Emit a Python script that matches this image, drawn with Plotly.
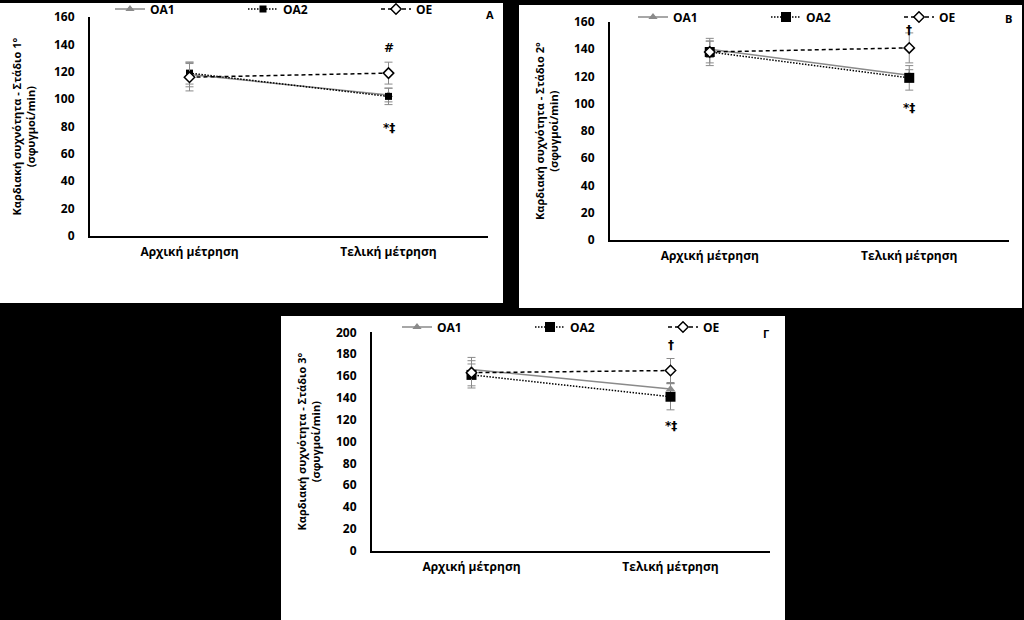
import plotly.graph_objects as go

# ---------------- data ----------------
categories = ["Αρχική μέτρηση", "Τελική μέτρηση"]
series_names = ["ΟΑ1", "ΟΑ2", "ΟΕ"]
y_ticks_ab = [0, 20, 40, 60, 80, 100, 120, 140, 160]
y_ticks_c = [0, 20, 40, 60, 80, 100, 120, 140, 160, 180, 200]

# Panel A - Στάδιο 1°
a_oa1 = [118, 103]
a_oa1_sd = [9, 5]
a_oa2 = [119, 102]
a_oa2_sd = [8, 6]
a_oe = [116, 119]
a_oe_sd = [10, 8]

# Panel B - Στάδιο 2°
b_oa1 = [140, 121]
b_oa1_sd = [6, 4]
b_oa2 = [138, 119]
b_oa2_sd = [8, 9]
b_oe = [138, 141]
b_oe_sd = [10, 11]

# Panel Γ - Στάδιο 3°
c_oa1 = [166, 148]
c_oa1_sd = [8, 5]
c_oa2 = [161, 141]
c_oa2_sd = [10, 12]
c_oe = [163, 165]
c_oe_sd = [14, 11]

# significance marks: (panel, category index, y value, text)
sig_marks = [
    ("A", 1, 137, "#"), ("A", 1, 79, "*‡"),
    ("B", 1, 154, "†"), ("B", 1, 97, "*‡"),
    ("C", 1, 188, "†"), ("C", 1, 114, "*‡"),
]

# ---------------- layout constants ----------------
W, H = 1024, 620
FONT = "Open Sans"
SYMFONT = "DejaVu Sans"
GRAY = "#8a8a8a"

def px_x(p):
    return p / W

def px_y(p):
    return 1 - p / H

panels = {
    "A": dict(xa="x", ya="y", legend="legend",
              data=[(a_oa1, a_oa1_sd), (a_oa2, a_oa2_sd), (a_oe, a_oe_sd)],
              xdom=[px_x(90), px_x(488)], ydom=[px_y(236), px_y(17)],
              yrange=[0, 160], ticks=y_ticks_ab,
              title="Καρδιακή συχνότητα - Στάδιο 1°<br>(σφυγμοί/min)",
              title_x=23, label="A", label_pos=(490, 15),
              legend_pos=(110, 9), sq=7,
              rect=(0, 3, 503, 303)),
    "B": dict(xa="x2", ya="y2", legend="legend2",
              data=[(b_oa1, b_oa1_sd), (b_oa2, b_oa2_sd), (b_oe, b_oe_sd)],
              xdom=[px_x(610), px_x(1009)], ydom=[px_y(240), px_y(22)],
              yrange=[0, 160], ticks=y_ticks_ab,
              title="Καρδιακή συχνότητα - Στάδιο 2°<br>(σφυγμοί/min)",
              title_x=546, label="B", label_pos=(1008, 19),
              legend_pos=(633, 17), sq=10,
              rect=(519, 5, 1022, 308)),
    "C": dict(xa="x3", ya="y3", legend="legend3",
              data=[(c_oa1, c_oa1_sd), (c_oa2, c_oa2_sd), (c_oe, c_oe_sd)],
              xdom=[px_x(372), px_x(770)], ydom=[px_y(550.7), px_y(332.3)],
              yrange=[0, 200], ticks=y_ticks_c,
              title="Καρδιακή συχνότητα - Στάδιο 3°<br>(σφυγμοί/min)",
              title_x=308, label="Γ", label_pos=(766, 333),
              legend_pos=(397, 327), sq=10,
              rect=(281, 316, 785, 620)),
}

def series_style(name, sq):
    if name == "ΟΑ1":
        return dict(line=dict(color=GRAY, width=1.5, dash="solid"),
                    marker=dict(symbol="triangle-up", size=8, color=GRAY))
    if name == "ΟΑ2":
        return dict(line=dict(color="black", width=1.5, dash="1.5px,1.5px"),
                    marker=dict(symbol="square", size=sq, color="black"))
    return dict(line=dict(color="black", width=1.5, dash="4px,3px"),
                marker=dict(symbol="diamond", size=8, color="white",
                            line=dict(color="black", width=1.5)))

fig = go.Figure()
layout = dict(width=W, height=H,
              margin=dict(l=0, r=0, t=0, b=0, autoexpand=False),
              paper_bgcolor="black", plot_bgcolor="white",
              font=dict(family=FONT, size=12, color="black"),
              showlegend=True, shapes=[], annotations=[])

for key, p in panels.items():
    x0, y0, x1, y1 = p["rect"]
    layout["shapes"].append(dict(type="rect", xref="paper", yref="paper",
                                 x0=px_x(x0), x1=px_x(x1), y0=px_y(y1), y1=px_y(y0),
                                 fillcolor="white", line=dict(width=0), layer="below"))
    for name, (vals, sds) in zip(series_names, p["data"]):
        st = series_style(name, p["sq"])
        fig.add_trace(go.Scatter(
            x=categories, y=vals, name=name, mode="lines+markers",
            xaxis=p["xa"], yaxis=p["ya"], legend=p["legend"],
            error_y=dict(type="data", array=sds, visible=True,
                         color=GRAY, thickness=1, width=4),
            cliponaxis=False, **st))
    xname = "xaxis" if p["xa"] == "x" else "xaxis" + p["xa"][1:]
    yname = "yaxis" if p["ya"] == "y" else "yaxis" + p["ya"][1:]
    layout[xname] = dict(domain=p["xdom"], anchor=p["ya"], type="category",
                         range=[-0.5, 1.5], showgrid=False, zeroline=False,
                         showline=True, linecolor="black", linewidth=2,
                         ticks="", ticklabelstandoff=4,
                         tickfont=dict(family=FONT, size=12, color="black",
                                       weight="bold"))
    layout[yname] = dict(domain=p["ydom"], anchor=p["xa"], range=p["yrange"],
                         tickvals=p["ticks"], showgrid=False, zeroline=False,
                         showline=True, linecolor="black", linewidth=2,
                         ticks="", ticklabelstandoff=11,
                         tickfont=dict(family=FONT, size=12, color="black",
                                       weight="bold"))
    lx, ly = p["legend_pos"]
    layout[p["legend"]] = dict(orientation="h", x=px_x(lx), y=px_y(ly),
                               xanchor="left", yanchor="middle",
                               bgcolor="rgba(0,0,0,0)", entrywidth=88,
                               entrywidthmode="pixels", itemwidth=30,
                               font=dict(family=FONT, size=12, color="black",
                                         weight="bold"))
    # y-axis title
    layout["annotations"].append(dict(
        text=p["title"], xref="paper", yref="paper",
        x=px_x(p["title_x"]), y=(p["ydom"][0] + p["ydom"][1]) / 2,
        xanchor="center", yanchor="middle", textangle=-90, showarrow=False,
        font=dict(family=FONT, size=11, color="black", weight="bold")))
    # panel label
    lbx, lby = p["label_pos"]
    layout["annotations"].append(dict(
        text=p["label"], xref="paper", yref="paper", x=px_x(lbx), y=px_y(lby),
        xanchor="center", yanchor="middle", showarrow=False,
        font=dict(family=FONT, size=11, color="black", weight="bold")))

for panel, ci, yv, txt in sig_marks:
    p = panels[panel]
    layout["annotations"].append(dict(
        text=txt, xref=p["xa"], yref=p["ya"], x=categories[ci], y=yv,
        xanchor="center", yanchor="middle", showarrow=False,
        font=dict(family=SYMFONT, size=12, color="black", weight="bold")))

fig.update_layout(**layout)
fig.write_html("out.html")
